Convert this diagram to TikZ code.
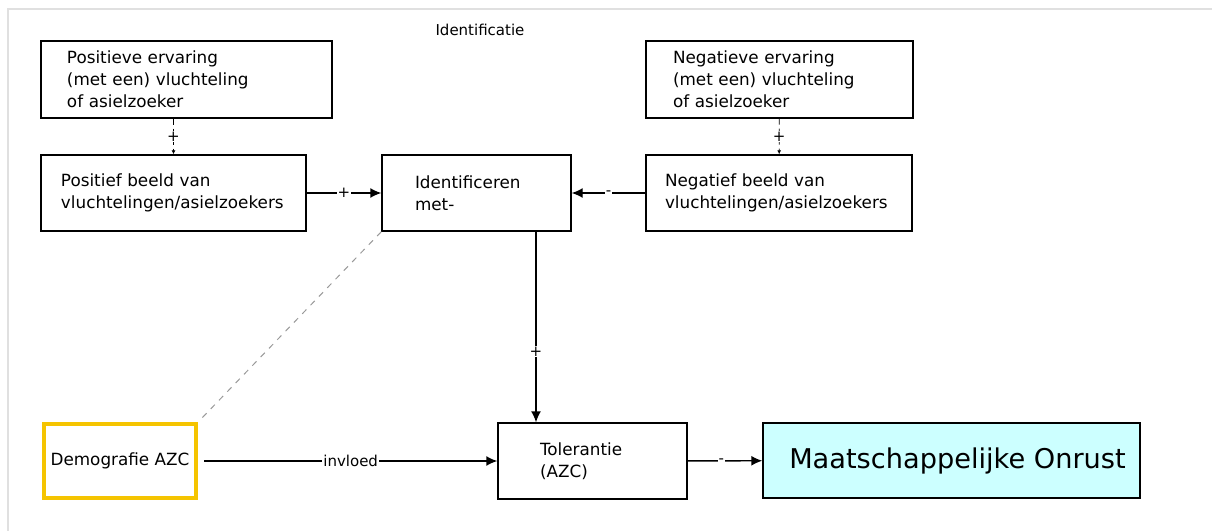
\documentclass[tikz,border=0pt]{standalone}
\usepackage{fontspec}
\setmainfont{DejaVu Sans}
\usetikzlibrary{arrows.meta}
\definecolor{azcgeel}{HTML}{F5C400}
\definecolor{onrustblauw}{HTML}{CCFFFF}
\tikzset{
  box/.style={draw, line width=0.7pt, align=left, inner ysep=0pt, font=\fontsize{8.4}{11}\selectfont},
  lbl/.style={fill=white, inner sep=0.5pt, font=\fontsize{7.5}{9}\selectfont},
  pijl/.style={line width=0.7pt, -{Latex[length=5.5pt,width=5pt]}},
}
\begin{document}
\begin{tikzpicture}[x=0.5pt, y=-0.5pt]
			\useasboundingbox (0,0) rectangle (1212,531);
			\draw[black!12, line width=0.6pt] (8,531) -- (8,9) -- (1212,9);
			\node[font=\fontsize{7.5}{9}\selectfont] (titel) at (480,30) {Identificatie};
			% bovenste rij
			\node[box, minimum height=38.5pt, inner xsep=13pt, text width=119.5pt] (poserv) at (186.5,79.5)
				{Positieve ervaring\\(met een) vluchteling\\of asielzoeker};
			\node[box, minimum height=38.5pt, inner xsep=13.5pt, text width=106.5pt] (negerv) at (779.5,79.5)
				{Negatieve ervaring\\(met een) vluchteling\\of asielzoeker};
			% middelste rij
			\node[box, minimum height=38pt, inner xsep=10pt, text width=112.5pt] (posbeeld) at (173.5,193)
				{Positief beeld van\\vluchtelingen/asielzoekers};
			\node[box, minimum height=38pt, inner xsep=16.5pt, text width=61.5pt] (ident) at (476.5,193)
				{Identificeren\\met-};
			\node[box, minimum height=38pt, inner xsep=9.5pt, text width=114pt] (negbeeld) at (779,193)
				{Negatief beeld van\\vluchtelingen/asielzoekers};
			% onderste rij
			\node[box, draw=azcgeel, line width=2pt, align=center, minimum width=76pt, minimum height=37pt] (demo) at (120,461)
				{Demografie AZC};
			\node[box, minimum height=38pt, inner xsep=21pt, text width=52.5pt] (tol) at (592.5,461)
				{Tolerantie\\(AZC)};
			\node[box, fill=onrustblauw, align=center, minimum width=188.5pt, minimum height=37.5pt,
				font=\fontsize{13.6}{16}\selectfont] (onrust) at (951.5,460.5)
				{\hspace*{6pt}Maatschappelijke Onrust};
			% verbindingen
			\draw[pijl, densely dashed, line width=0.4pt, -{Latex[length=2pt,width=2pt]}] (poserv.south -| posbeeld.north) -- node[lbl] {+} (posbeeld.north);
			\draw[pijl, densely dashed, line width=0.4pt, -{Latex[length=2pt,width=2pt]}] (negerv) -- node[lbl] {+} (negbeeld);
			\draw[pijl] (posbeeld) -- node[lbl] {+} (ident);
			\draw[pijl] (negbeeld) -- node[lbl] {-} (ident);
			\draw[pijl] ([xshift=29.75pt]ident.south) -- node[lbl, pos=0.63] {+} ([xshift=-28.25pt]tol.north);
			\draw[pijl] ([xshift=3pt]demo.east) -- node[lbl, pos=0.5] {invloed} (tol);
			\draw[pijl] (tol) -- node[lbl, pos=0.45] {-} (onrust);
			\draw[black!40, dashed, line width=0.5pt] (ident.south west) -- ([xshift=1pt, yshift=1pt]demo.north east);
			\end{tikzpicture}
\end{document}
